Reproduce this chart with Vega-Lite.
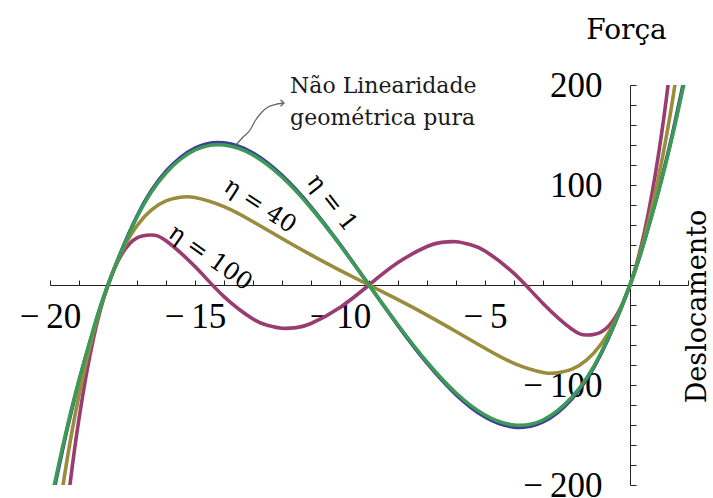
{
  "$schema": "https://vega.github.io/schema/vega-lite/v6.json",
  "width": 638,
  "height": 400,
  "autosize": {"type": "none"},
  "padding": {"left": 50, "top": 85, "right": 25, "bottom": 13},
  "background": "white",
  "config": {"view": {"stroke": null}},
  "datasets": {
    "curvas": [
      {"serie": "eta0", "x": -20, "forca": -223.3}, {"serie": "eta0", "x": -19.5, "forca": -155.9}, {"serie": "eta0", "x": -19, "forca": -96.4},
      {"serie": "eta0", "x": -18.5, "forca": -44.6}, {"serie": "eta0", "x": -18, "forca": 0}, {"serie": "eta0", "x": -17, "forca": 69.0},
      {"serie": "eta0", "x": -16, "forca": 113.7}, {"serie": "eta0", "x": -15, "forca": 137.0}, {"serie": "eta0", "x": -14, "forca": 142.1},
      {"serie": "eta0", "x": -13, "forca": 132.0}, {"serie": "eta0", "x": -12, "forca": 109.6}, {"serie": "eta0", "x": -11, "forca": 78.2},
      {"serie": "eta0", "x": -10, "forca": 40.6}, {"serie": "eta0", "x": -9, "forca": 0}, {"serie": "eta0", "x": -8, "forca": -40.6},
      {"serie": "eta0", "x": -7, "forca": -78.2}, {"serie": "eta0", "x": -6, "forca": -109.6}, {"serie": "eta0", "x": -5, "forca": -132.0},
      {"serie": "eta0", "x": -4, "forca": -142.1}, {"serie": "eta0", "x": -3, "forca": -137.0}, {"serie": "eta0", "x": -2, "forca": -113.7},
      {"serie": "eta0", "x": -1, "forca": -69.0}, {"serie": "eta0", "x": 0, "forca": 0}, {"serie": "eta0", "x": 0.5, "forca": 44.6},
      {"serie": "eta0", "x": 1, "forca": 96.4}, {"serie": "eta0", "x": 1.5, "forca": 155.9}, {"serie": "eta0", "x": 2, "forca": 223.3},

      {"serie": "eta100", "x": -20, "forca": -401.7}, {"serie": "eta100", "x": -19.5, "forca": -247.5}, {"serie": "eta100", "x": -19, "forca": -133.8},
      {"serie": "eta100", "x": -18.5, "forca": -53.4}, {"serie": "eta100", "x": -18, "forca": 0}, {"serie": "eta100", "x": -17.5, "forca": 31.9},
      {"serie": "eta100", "x": -17, "forca": 47.1}, {"serie": "eta100", "x": -16.5, "forca": 50.0}, {"serie": "eta100", "x": -16, "forca": 44.2},
      {"serie": "eta100", "x": -15, "forca": 18.4}, {"serie": "eta100", "x": -14, "forca": -11.6}, {"serie": "eta100", "x": -13, "forca": -34.0},
      {"serie": "eta100", "x": -12.5, "forca": -40.4}, {"serie": "eta100", "x": -12, "forca": -43.3}, {"serie": "eta100", "x": -11.5, "forca": -42.6},
      {"serie": "eta100", "x": -11, "forca": -38.5}, {"serie": "eta100", "x": -10, "forca": -22.4}, {"serie": "eta100", "x": -9, "forca": 0},
      {"serie": "eta100", "x": -8, "forca": 22.4}, {"serie": "eta100", "x": -7, "forca": 38.5}, {"serie": "eta100", "x": -6.5, "forca": 42.6},
      {"serie": "eta100", "x": -6, "forca": 43.3}, {"serie": "eta100", "x": -5.5, "forca": 40.4}, {"serie": "eta100", "x": -5, "forca": 34.0},
      {"serie": "eta100", "x": -4, "forca": 11.6}, {"serie": "eta100", "x": -3, "forca": -18.4}, {"serie": "eta100", "x": -2, "forca": -44.2},
      {"serie": "eta100", "x": -1.5, "forca": -50.0}, {"serie": "eta100", "x": -1, "forca": -47.1}, {"serie": "eta100", "x": -0.5, "forca": -31.9},
      {"serie": "eta100", "x": 0, "forca": 0}, {"serie": "eta100", "x": 0.5, "forca": 53.4}, {"serie": "eta100", "x": 1, "forca": 133.8},
      {"serie": "eta100", "x": 1.5, "forca": 247.5}, {"serie": "eta100", "x": 2, "forca": 401.7},

      {"serie": "eta40", "x": -20, "forca": -292.3}, {"serie": "eta40", "x": -19.5, "forca": -190.8}, {"serie": "eta40", "x": -19, "forca": -110.2},
      {"serie": "eta40", "x": -18.5, "forca": -47.5}, {"serie": "eta40", "x": -18, "forca": 0}, {"serie": "eta40", "x": -17.5, "forca": 34.9},
      {"serie": "eta40", "x": -17, "forca": 59.3}, {"serie": "eta40", "x": -16.5, "forca": 75.1}, {"serie": "eta40", "x": -16, "forca": 84.2},
      {"serie": "eta40", "x": -15.5, "forca": 87.8}, {"serie": "eta40", "x": -15, "forca": 87.4}, {"serie": "eta40", "x": -14, "forca": 78.3},
      {"serie": "eta40", "x": -13, "forca": 63.3}, {"serie": "eta40", "x": -12, "forca": 46.5}, {"serie": "eta40", "x": -11, "forca": 30.1},
      {"serie": "eta40", "x": -10, "forca": 14.7}, {"serie": "eta40", "x": -9, "forca": 0}, {"serie": "eta40", "x": -8, "forca": -14.7},
      {"serie": "eta40", "x": -7, "forca": -30.1}, {"serie": "eta40", "x": -6, "forca": -46.5}, {"serie": "eta40", "x": -5, "forca": -63.3},
      {"serie": "eta40", "x": -4, "forca": -78.3}, {"serie": "eta40", "x": -3, "forca": -87.4}, {"serie": "eta40", "x": -2.5, "forca": -87.8},
      {"serie": "eta40", "x": -2, "forca": -84.2}, {"serie": "eta40", "x": -1.5, "forca": -75.1}, {"serie": "eta40", "x": -1, "forca": -59.3},
      {"serie": "eta40", "x": -0.5, "forca": -34.9}, {"serie": "eta40", "x": 0, "forca": 0}, {"serie": "eta40", "x": 0.5, "forca": 47.5},
      {"serie": "eta40", "x": 1, "forca": 110.2}, {"serie": "eta40", "x": 1.5, "forca": 190.8}, {"serie": "eta40", "x": 2, "forca": 292.3},

      {"serie": "eta1", "x": -20, "forca": -220}, {"serie": "eta1", "x": -19.5, "forca": -153.6}, {"serie": "eta1", "x": -19, "forca": -95},
      {"serie": "eta1", "x": -18.5, "forca": -43.9}, {"serie": "eta1", "x": -18, "forca": 0}, {"serie": "eta1", "x": -17, "forca": 68},
      {"serie": "eta1", "x": -16, "forca": 112}, {"serie": "eta1", "x": -15, "forca": 135}, {"serie": "eta1", "x": -14, "forca": 140},
      {"serie": "eta1", "x": -13, "forca": 130}, {"serie": "eta1", "x": -12, "forca": 108}, {"serie": "eta1", "x": -11, "forca": 77},
      {"serie": "eta1", "x": -10, "forca": 40}, {"serie": "eta1", "x": -9, "forca": 0}, {"serie": "eta1", "x": -8, "forca": -40},
      {"serie": "eta1", "x": -7, "forca": -77}, {"serie": "eta1", "x": -6, "forca": -108}, {"serie": "eta1", "x": -5, "forca": -130},
      {"serie": "eta1", "x": -4, "forca": -140}, {"serie": "eta1", "x": -3, "forca": -135}, {"serie": "eta1", "x": -2, "forca": -112},
      {"serie": "eta1", "x": -1, "forca": -68}, {"serie": "eta1", "x": 0, "forca": 0}, {"serie": "eta1", "x": 0.5, "forca": 43.9},
      {"serie": "eta1", "x": 1, "forca": 95}, {"serie": "eta1", "x": 1.5, "forca": 153.6}, {"serie": "eta1", "x": 2, "forca": 220}
    ],
    "seta": [
      {"x": -13.59, "forca": 140}, {"x": -13.34, "forca": 148}, {"x": -13.1, "forca": 155},
      {"x": -12.93, "forca": 164}, {"x": -12.69, "forca": 173}, {"x": -12.48, "forca": 178},
      {"x": -12.17, "forca": 181}, {"x": -11.93, "forca": 182}
    ]
  },
  "encoding": {
    "x": {
      "field": "x",
      "type": "quantitative",
      "scale": {"domain": [-20, 2], "nice": false, "zero": false},
      "axis": {
        "orient": "bottom",
        "offset": -200,
        "grid": false,
        "values": [-20, -19, -18, -17, -16, -15, -14, -13, -12, -11, -10, -9, -8, -7, -6, -5, -4, -3, -2, -1, 0, 1, 2],
        "tickSize": -5,
        "tickColor": "#222",
        "domainColor": "#222",
        "labelExpr": "datum.value % 5 === 0 && datum.value !== 0 ? (datum.value < 0 ? '\u2212\u2009' + abs(datum.value) : '' + datum.value) : ''",
        "labelFont": "Liberation Serif",
        "labelFontSize": 35,
        "labelColor": "black",
        "labelBaseline": "top",
        "labelPadding": 19,
        "labelDx": -5,
        "labelOverlap": false,
        "labelFlush": false,
        "labelBound": false,
        "title": "Deslocamento",
        "titleFont": "DejaVu Serif",
        "titleFontSize": 27,
        "titleFontWeight": "normal",
        "titleColor": "black",
        "titleAngle": -90,
        "titleAlign": "center",
        "titleBaseline": "alphabetic",
        "titleX": 655,
        "titleY": 21
      }
    },
    "y": {
      "field": "forca",
      "type": "quantitative",
      "scale": {"domain": [-200, 200], "nice": false, "zero": false},
      "axis": {
        "orient": "left",
        "offset": -580,
        "grid": false,
        "values": [-200, -180, -160, -140, -120, -100, -80, -60, -40, -20, 0, 20, 40, 60, 80, 100, 120, 140, 160, 180, 200],
        "tickSize": -6,
        "tickColor": "#222",
        "domainColor": "#222",
        "labelExpr": "datum.value % 100 === 0 && datum.value !== 0 ? (datum.value < 0 ? '\u2212\u2009' + abs(datum.value) : '' + datum.value) : ''",
        "labelFont": "Liberation Serif",
        "labelFontSize": 35,
        "labelColor": "black",
        "labelBaseline": "middle",
        "labelPadding": 34,
        "labelOverlap": false,
        "labelFlush": false,
        "labelBound": false,
        "title": "Força",
        "titleFont": "DejaVu Serif",
        "titleFontSize": 28,
        "titleFontWeight": "normal",
        "titleColor": "black",
        "titleAngle": 0,
        "titleAlign": "center",
        "titleBaseline": "alphabetic",
        "titleX": -4,
        "titleY": -47
      }
    }
  },
  "layer": [
    {
      "data": {"name": "curvas"},
      "transform": [{"filter": "datum.serie === 'eta0'"}],
      "mark": {"type": "line", "clip": true, "interpolate": "natural", "color": "#3d3d99", "strokeWidth": 3.6}
    },
    {
      "data": {"name": "curvas"},
      "transform": [{"filter": "datum.serie === 'eta100'"}],
      "mark": {"type": "line", "clip": true, "interpolate": "natural", "color": "#993d71", "strokeWidth": 3.6}
    },
    {
      "data": {"name": "curvas"},
      "transform": [{"filter": "datum.serie === 'eta40'"}],
      "mark": {"type": "line", "clip": true, "interpolate": "natural", "color": "#998c3d", "strokeWidth": 3.6}
    },
    {
      "data": {"name": "curvas"},
      "transform": [{"filter": "datum.serie === 'eta1'"}],
      "mark": {"type": "line", "clip": true, "interpolate": "natural", "color": "#3d9956", "strokeWidth": 3.6}
    },
    {
      "data": {"name": "seta"},
      "mark": {"type": "line", "interpolate": "monotone", "color": "#666", "strokeWidth": 1.3}
    },
    {
      "data": {"values": [{"x": -11.93, "forca": 182}]},
      "mark": {"type": "point", "shape": "M-1,-0.9L0,0L-1,0.9", "size": 50, "filled": false, "stroke": "#666", "strokeWidth": 1.3, "opacity": 1}
    },
    {
      "data": {"values": [{"x": -11.72, "forca": 192, "texto": ["Não Linearidade", "geométrica pura"]}]},
      "mark": {"type": "text", "align": "left", "baseline": "alphabetic", "font": "DejaVu Serif", "fontSize": 22, "lineHeight": 32, "color": "#1a1a1a"},
      "encoding": {"text": {"field": "texto"}}
    },
    {
      "data": {"values": [{"x": -10.28, "forca": 82, "rotulo": "η = 1"}]},
      "mark": {"type": "text", "align": "center", "baseline": "middle", "font": "DejaVu Serif", "fontSize": 24, "angle": 52, "color": "black"},
      "encoding": {"text": {"field": "rotulo"}}
    },
    {
      "data": {"values": [{"x": -12.76, "forca": 79, "rotulo": "η = 40"}]},
      "mark": {"type": "text", "align": "center", "baseline": "middle", "font": "DejaVu Serif", "fontSize": 24, "angle": 33, "color": "black"},
      "encoding": {"text": {"field": "rotulo"}}
    },
    {
      "data": {"values": [{"x": -14.48, "forca": 27, "rotulo": "η = 100"}]},
      "mark": {"type": "text", "align": "center", "baseline": "middle", "font": "DejaVu Serif", "fontSize": 24, "angle": 35, "color": "black"},
      "encoding": {"text": {"field": "rotulo"}}
    }
  ]
}
